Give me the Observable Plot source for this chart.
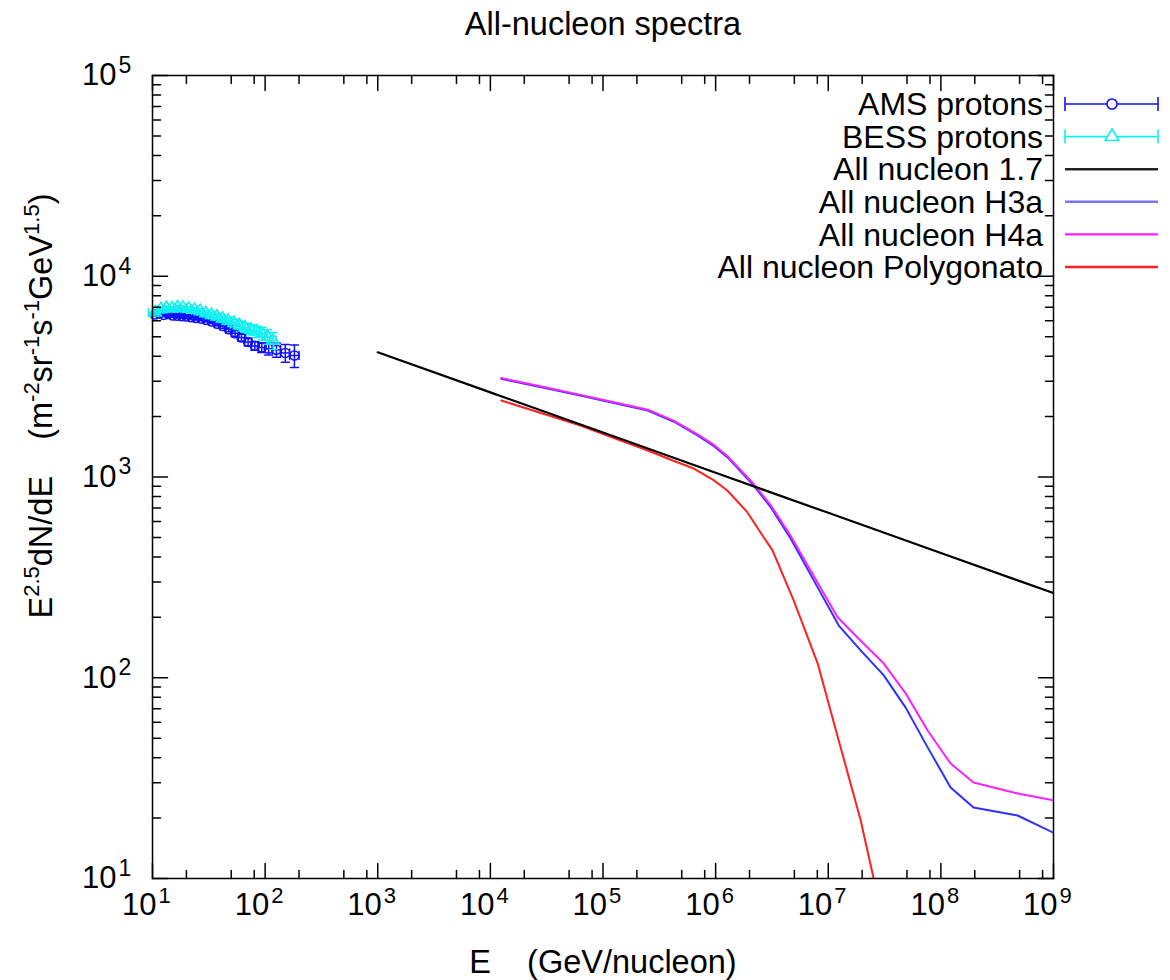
<!DOCTYPE html>
<html><head><meta charset="utf-8">
<script src="https://cdn.jsdelivr.net/npm/d3@7"></script>
<script src="https://cdn.jsdelivr.net/npm/@observablehq/plot@0.6"></script>
<style>
body{margin:0;background:#fff;}
#chart svg{font-family:"Liberation Sans",Arial,Helvetica,sans-serif;}
</style>
</head><body><div id="chart"></div>
<script>
// ---------------- data ----------------
const ams_E   = [10.5,11.5,12.6,13.8,15.1,16.6,18.2,20.0,22.1,24.4,27.1,30.1,33.6,37.6,42.2,47.6,54.1,61.7,70.6,81.1,93.3,107.5,126,151,182];
const ams_V   = [6450,6500,6420,6480,6380,6350,6320,6300,6250,6200,6150,6050,5950,5800,5650,5450,5200,4950,4700,4500,4420,4350,4300,4150,4030];
const ams_err = [110,110,110,110,110,110,115,115,120,120,125,130,135,140,150,160,170,185,200,220,250,300,350,420,520];
const ams_edges = [10.0,11.0,12.0,13.2,14.4,15.8,17.4,19.1,21.0,23.2,25.7,28.5,31.7,35.5,39.7,44.7,50.7,57.7,65.9,75.6,87.0,100,116,137,165,200];

const bess_E   = [10.6,11.9,13.3,14.9,16.7,18.7,21.0,23.6,26.5,29.7,33.3,37.4,41.9,47.0,52.8,59.2,66.4,74.5,83.6,93.8,105,118];
const bess_V   = [6600,6850,6950,6900,7000,6950,6880,6800,6700,6550,6420,6300,6150,6000,5850,5700,5550,5420,5300,5180,5000,4780];
const bess_err = [150,150,150,155,160,165,170,175,180,190,200,210,220,235,250,270,290,310,340,370,410,460];
const bess_edges = [9.2,11.2,12.6,14.1,15.8,17.7,19.9,22.3,25.0,28.1,31.5,35.3,39.6,44.4,49.8,55.9,62.7,70.3,78.9,88.5,99.3,111,125];

const n17_E = [1e3,1e4,1e5,1e6,1e7,1e8,1e9];
const n17_V = [4180,2640,1665,1050,663,418,264];

const h3a_E = [1.25e4,3.2e4,6.3e4,1.25e5,2.5e5,4.27e5,6.9e5,9.67e5,1.27e6,2.17e6,3.08e6,4.63e6,8.05e6,1.24e7,1.94e7,3.1e7,4.87e7,7.63e7,1.22e8,1.95e8,4.8e8,1e9];
const h3a_V = [3085,2762,2545,2338,2143,1885,1611,1425,1256,908,708,494,282,182,137,103,71,45,28.4,22.6,20.6,16.9];

const h4a_E = [1.25e4,3.2e4,6.3e4,1.25e5,2.5e5,4.27e5,6.9e5,9.67e5,1.27e6,2.17e6,3.08e6,4.63e6,8.05e6,1.21e7,1.94e7,3.1e7,4.87e7,7.63e7,1.22e8,1.95e8,4.8e8,1e9];
const h4a_V = [3110,2785,2565,2358,2165,1905,1630,1445,1272,925,725,510,297,200,153,118,83.6,54.6,37.4,30.1,26.5,24.5];

const poly_E = [1.25e4,3.2e4,6.3e4,1.25e5,2.5e5,4.27e5,6.4e5,9.67e5,1.27e6,1.91e6,2.67e6,3.2e6,4.93e6,8.05e6,1.24e7,1.94e7,2.53e7,3.1e7];
const poly_V = [2405,2038,1805,1563,1355,1202,1102,962,857,668,501,431,243,118,48.6,19.5,10,6.2];

const xTickExps = [1,2,3,4,5,6,7,8,9];
const yTickExps = [1,2,3,4,5];
const xMinorMult = [2,5,8];
const yMinorMult = [2,3,4,5,6,7,8,9];

const legendLabels = ["AMS protons","BESS protons","All nucleon 1.7","All nucleon H3a","All nucleon H4a","All nucleon Polygonato"];
const COL = {ams:"#1010ff", bess:"#10f0f0", n17:"#000000", h3a:"#3030ff", h4a:"#ff20ff", poly:"#ff2020"};
const legendColors = [COL.ams, COL.bess, "#222222", "#7878ff", COL.h4a, COL.poly];

// ---------------- build tables ----------------
const rows = (E, V) => E.map((e, i) => ({E: e, V: V[i]}));
const ams = ams_E.map((e, i) => ({E: e, V: ams_V[i], lo: ams_V[i] - ams_err[i], hi: ams_V[i] + ams_err[i], x1: ams_edges[i], x2: ams_edges[i + 1]}));
const bess = bess_E.map((e, i) => ({E: e, V: bess_V[i], lo: bess_V[i] - bess_err[i], hi: bess_V[i] + bess_err[i], x1: bess_edges[i], x2: bess_edges[i + 1]}));

const xMajor = xTickExps.map(e => 10 ** e);
const yMajor = yTickExps.map(e => 10 ** e);
const xMinor = xTickExps.slice(0, -1).flatMap(e => xMinorMult.map(m => m * 10 ** e));
const yMinor = yTickExps.slice(0, -1).flatMap(e => yMinorMult.map(m => m * 10 ** e));

const up = {draw(c, l) { c.moveTo(0, 0); c.lineTo(0, -l); }};
const down = {draw(c, l) { c.moveTo(0, 0); c.lineTo(0, l); }};
const right = {draw(c, l) { c.moveTo(0, 0); c.lineTo(l, 0); }};
const left = {draw(c, l) { c.moveTo(0, 0); c.lineTo(-l, 0); }};

const tickStyle = {stroke: "#000", strokeWidth: 1.5};
const FONT = "Liberation Sans, Arial, Helvetica, sans-serif";

function errMarks(data, color, symbol) {
  return [
    Plot.ruleX(data, {x: "E", y1: "lo", y2: "hi", stroke: color, strokeWidth: 1.5}),
    Plot.vector(data, {x: "E", y: "lo", length: 8, rotate: 90, anchor: "middle", shape: up, stroke: color, strokeWidth: 1.5}),
    Plot.vector(data, {x: "E", y: "hi", length: 8, rotate: 90, anchor: "middle", shape: up, stroke: color, strokeWidth: 1.5}),
    Plot.ruleY(data, {y: "V", x1: "x1", x2: "x2", stroke: color, strokeWidth: 1.5}),
    Plot.vector(data, {x: "x1", y: "V", length: 8, anchor: "middle", shape: up, stroke: color, strokeWidth: 1.5}),
    Plot.vector(data, {x: "x2", y: "V", length: 8, anchor: "middle", shape: up, stroke: color, strokeWidth: 1.5}),
    Plot.dot(data, {x: "E", y: "V", symbol, r: 4.5, stroke: color, strokeWidth: 1.5, fill: "none"})
  ];
}

const chart = Plot.plot({
  width: 1170,
  height: 980,
  marginLeft: 152,
  marginRight: 117,
  marginTop: 75,
  marginBottom: 102,
  style: {fontFamily: FONT, background: "#fff", color: "#000"},
  x: {type: "log", domain: [10, 1e9], axis: null},
  y: {type: "log", domain: [10, 1e5], axis: null},
  marks: [
    // data
    ...errMarks(ams, COL.ams, "circle"),
    ...errMarks(bess, COL.bess, "triangle"),
    Plot.line(rows(poly_E, poly_V), {x: "E", y: "V", stroke: COL.poly, strokeWidth: 2, clip: true}),
    Plot.line(rows(h3a_E, h3a_V), {x: "E", y: "V", stroke: COL.h3a, strokeWidth: 2, clip: true}),
    Plot.line(rows(h4a_E, h4a_V), {x: "E", y: "V", stroke: COL.h4a, strokeWidth: 2, clip: true}),
    Plot.line(rows(n17_E, n17_V), {x: "E", y: "V", stroke: COL.n17, strokeWidth: 2.2, clip: true}),
    // frame and inward ticks
    Plot.frame({stroke: "#000", strokeWidth: 1.5}),
    Plot.vector(xMajor, {x: d => d, frameAnchor: "bottom", anchor: "start", length: 15, shape: up, ...tickStyle}),
    Plot.vector(xMinor, {x: d => d, frameAnchor: "bottom", anchor: "start", length: 8, shape: up, ...tickStyle}),
    Plot.vector(xMajor, {x: d => d, frameAnchor: "top", anchor: "start", length: 15, shape: down, ...tickStyle}),
    Plot.vector(xMinor, {x: d => d, frameAnchor: "top", anchor: "start", length: 8, shape: down, ...tickStyle}),
    Plot.vector(yMajor, {y: d => d, frameAnchor: "left", anchor: "start", length: 15, shape: right, ...tickStyle}),
    Plot.vector(yMinor, {y: d => d, frameAnchor: "left", anchor: "start", length: 8, shape: right, ...tickStyle}),
    Plot.vector(yMajor, {y: d => d, frameAnchor: "right", anchor: "start", length: 15, shape: left, ...tickStyle}),
    Plot.vector(yMinor, {y: d => d, frameAnchor: "right", anchor: "start", length: 8, shape: left, ...tickStyle}),
    // tick labels
    Plot.text(xTickExps, {x: e => 10 ** e, frameAnchor: "bottom", text: () => "10", textAnchor: "end", dx: 4, dy: 36, fontSize: 31, fill: "#000"}),
    Plot.text(xTickExps, {x: e => 10 ** e, frameAnchor: "bottom", text: e => String(e), textAnchor: "start", dx: 6, dy: 24, fontSize: 22, fill: "#000"}),
    Plot.text(yTickExps, {y: e => 10 ** e, frameAnchor: "left", text: () => "10", textAnchor: "end", dx: -36, dy: 0, fontSize: 31, fill: "#000"}),
    Plot.text(yTickExps, {y: e => 10 ** e, frameAnchor: "left", text: e => String(e), textAnchor: "start", dx: -34, dy: -10, fontSize: 23, fill: "#000"})
  ]
});
document.getElementById("chart").append(chart);

// ---------------- titles, labels, legend ----------------
const svg = d3.select(chart);
const ann = svg.append("g").attr("font-family", FONT).attr("fill", "#000");

ann.append("text").attr("x", 603).attr("y", 35).attr("text-anchor", "middle")
  .attr("font-size", 32.5).text("All-nucleon spectra");

ann.append("text").attr("x", 603).attr("y", 973).attr("text-anchor", "middle")
  .attr("font-size", 32.5).style("white-space", "pre").text("E    (GeV/nucleon)");

// y label with superscripts
const yl = ann.append("text").attr("transform", "translate(52,406) rotate(-90)")
  .attr("text-anchor", "middle").attr("font-size", 32.5).style("white-space", "pre");
const parts = [["E",0],["2.5",1],["dN/dE    (m",0],["-2",1],["sr",0],["-1",1],["s",0],["-1",1],["GeV",0],["1.5",1],[")",0]];
let prevSup = false;
for (const [t, sup] of parts) {
  const ts = yl.append("tspan").text(t);
  if (sup) { ts.attr("font-size", 22).attr("dy", prevSup ? 0 : -13); }
  else { ts.attr("dy", prevSup ? 13 : 0); }
  prevSup = !!sup;
}

// legend
const lx1 = 1065, lx2 = 1158, lxm = 1112;
legendLabels.forEach((lab, i) => {
  const y = 104 + i * 32.6;
  const c = legendColors[i];
  ann.append("text").attr("x", 1043).attr("y", y).attr("dy", "0.35em").attr("text-anchor", "end")
    .attr("font-size", 32).text(lab);
  ann.append("line").attr("x1", lx1).attr("x2", lx2).attr("y1", y).attr("y2", y)
    .attr("stroke", c).attr("stroke-width", i < 2 ? 1.6 : 2.4);
  if (i < 2) {
    for (const xx of [lx1, lx2]) ann.append("line").attr("x1", xx).attr("x2", xx).attr("y1", y - 7).attr("y2", y + 7).attr("stroke", c).attr("stroke-width", 1.6);
    const sym = d3.symbol(i === 0 ? d3.symbolCircle : d3.symbolTriangle, 80);
    ann.append("path").attr("d", sym()).attr("transform", `translate(${lxm},${y})`).attr("fill", "#fff").attr("stroke", c).attr("stroke-width", 1.6);
  }
});
</script>
</body></html>
